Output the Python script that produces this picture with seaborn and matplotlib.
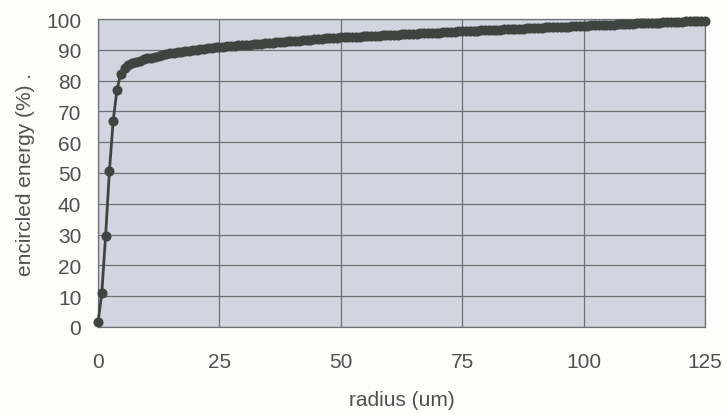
import numpy as np
import pandas as pd
import matplotlib
matplotlib.use("Agg")
import matplotlib.pyplot as plt
from matplotlib.ticker import MultipleLocator
import seaborn as sns

# Sampled radii (um), 161 evenly spaced samples from 0 to 125
radius_um = np.linspace(0.0, 125.0, 161)

# Encircled energy (%) at each sampled radius
encircled_pct = [
    1.5, 11.0, 29.5, 50.5, 67.0, 77.0, 82.3, 84.2, 85.2, 85.7,
    86.1, 86.5, 86.9, 87.2, 87.5, 87.8, 88.0, 88.3, 88.5, 88.8,
    89.0, 89.2, 89.4, 89.6, 89.7, 89.9, 90.0, 90.2, 90.3, 90.5,
    90.6, 90.8, 90.9, 91.0, 91.1, 91.2, 91.3, 91.4, 91.5, 91.6,
    91.7, 91.8, 91.9, 92.0, 92.1, 92.2, 92.3, 92.4, 92.5, 92.6,
    92.7, 92.8, 92.9, 93.0, 93.1, 93.2, 93.3, 93.4, 93.5, 93.6,
    93.7, 93.8, 93.85, 93.9, 94.0, 94.05, 94.1, 94.2, 94.25, 94.3,
    94.4, 94.45, 94.5, 94.55, 94.6, 94.7, 94.75, 94.8, 94.9, 94.95,
    95.0, 95.05, 95.1, 95.2, 95.25, 95.3, 95.4, 95.45, 95.5, 95.55,
    95.6, 95.7, 95.75, 95.8, 95.9, 95.95, 96.0, 96.05, 96.1, 96.2,
    96.25, 96.3, 96.35, 96.4, 96.45, 96.5, 96.55, 96.6, 96.7, 96.75,
    96.8, 96.85, 96.9, 96.95, 97.0, 97.05, 97.1, 97.2, 97.25, 97.3,
    97.35, 97.4, 97.45, 97.5, 97.55, 97.6, 97.7, 97.75, 97.8, 97.85,
    97.9, 97.95, 98.0, 98.05, 98.1, 98.15, 98.2, 98.3, 98.35, 98.4,
    98.45, 98.5, 98.55, 98.6, 98.65, 98.7, 98.75, 98.8, 98.85, 98.9,
    98.95, 99.0, 99.05, 99.1, 99.15, 99.2, 99.25, 99.3, 99.35, 99.4,
    99.5,
]

x_ticks = [0, 25, 50, 75, 100, 125]
y_ticks = [0, 10, 20, 30, 40, 50, 60, 70, 80, 90, 100]

df = pd.DataFrame({"radius": radius_um, "energy": encircled_pct})

sns.set_style("white")
plt.rcParams["font.family"] = ["Liberation Sans", "DejaVu Sans"]

text_color = "#505050"
grid_color = "#6f7073"
line_color = "#3e4541"
font_size = 15

fig = plt.figure(figsize=(7.27, 4.14), dpi=100)
fig.patch.set_facecolor("#fdfdfb")
ax = fig.add_axes([98 / 727, 1 - 328 / 414, (705 - 98) / 727, (328 - 20) / 414])
ax.set_facecolor("#d1d5df")

sns.lineplot(
    data=df, x="radius", y="energy", ax=ax,
    color=line_color, linewidth=2.0,
    marker="o", markersize=6.5, markeredgecolor=line_color,
    markerfacecolor=line_color, clip_on=False, zorder=5,
)

ax.set_xlim(0, 125)
ax.set_ylim(0, 100)
ax.set_xticks(x_ticks)
ax.set_yticks(y_ticks)
ax.set_xticklabels([str(v) for v in x_ticks])
ax.set_yticklabels([str(v) for v in y_ticks])
ax.xaxis.set_minor_locator(MultipleLocator(2.5))
ax.yaxis.set_minor_locator(MultipleLocator(2))

ax.grid(True, which="major", color=grid_color, linewidth=0.9)
ax.set_axisbelow(True)

ax.tick_params(axis="both", which="major", direction="out", length=7,
               width=0.9, color=grid_color, labelsize=font_size,
               labelcolor=text_color)
ax.tick_params(axis="y", which="major", pad=5)
ax.tick_params(axis="x", which="major", pad=11)
ax.tick_params(axis="both", which="minor", direction="in", length=3.5,
               width=0.8, color=grid_color)

for side in ["left", "bottom", "right", "top"]:
    ax.spines[side].set_visible(True)
    ax.spines[side].set_color(grid_color)
    ax.spines[side].set_linewidth(0.9)

ax.set_xlabel("radius (um)", fontsize=font_size, color=text_color, labelpad=14)
ax.set_ylabel("encircled energy (%) .", fontsize=font_size, color=text_color, labelpad=8)

fig.savefig("out.png", dpi=100, facecolor=fig.get_facecolor())
